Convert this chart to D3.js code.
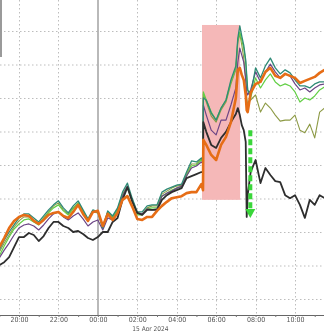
<!DOCTYPE html>
<html><head><meta charset="utf-8">
<script src="https://cdn.jsdelivr.net/npm/d3@7"></script>
<style>html,body{margin:0;padding:0;background:#fff;overflow:hidden} svg{will-change:transform} text{text-rendering:geometricPrecision}</style>
</head><body><svg id="c" width="324" height="331"></svg>
<script>
const times = ["19:00","19:15","19:30","19:45","20:00","20:15","20:30","20:45","21:00","21:15","21:30","21:45","22:00","22:15","22:30","22:45","23:00","23:15","23:30","23:45","00:00","00:15","00:30","00:45","01:00","01:15","01:30","01:45","02:00","02:15","02:30","02:45","03:00","03:15","03:30","03:45","04:00","04:15","04:30","04:45","05:00","05:15","05:20","05:21","05:30","05:45","06:00","06:15","06:30","06:45","07:00","07:06","07:12","07:18","07:24","07:30","07:33","07:36","07:45","08:00","08:15","08:30","08:45","09:00","09:15","09:30","09:45","10:00","10:15","10:30","10:45","11:00","11:15","11:30"];

const black = [1.01,1.10,1.25,1.55,1.85,1.85,1.97,1.91,1.73,1.88,
 2.12,2.30,2.30,2.18,2.12,2.00,2.03,1.94,1.82,1.76,
 1.85,2.00,2.00,2.30,2.42,2.96,3.34,2.90,2.57,2.51,
 2.66,2.66,2.66,2.96,3.10,3.19,3.25,3.31,3.61,3.67,
 3.73,3.79,3.79,5.28,4.99,4.60,4.51,4.81,4.99,5.28,
 5.52,5.70,5.49,5.19,5.04,4.69,2.45,3.10,3.79,4.15,
 3.46,3.91,3.70,3.52,3.49,3.10,3.01,3.10,2.81,2.42,
 2.96,2.81,3.10,3.01];

const orange = [1.55,1.82,2.12,2.33,2.45,2.51,2.48,2.33,2.24,2.36,
 2.51,2.57,2.60,2.48,2.42,2.60,2.81,2.54,2.33,2.60,
 2.63,2.18,2.54,2.36,2.57,2.96,3.07,2.75,2.39,2.36,
 2.45,2.45,2.63,2.78,2.90,3.01,3.04,3.07,3.16,3.19,
 3.19,3.43,3.25,4.75,4.60,4.30,4.15,4.60,4.84,5.28,
 6.00,6.84,6.90,6.69,6.54,6.09,5.64,5.58,6.15,6.42,
 6.48,6.78,6.90,6.66,6.60,6.72,6.66,6.60,6.45,6.51,
 6.57,6.63,6.75,6.84];

const teal = [1.46,1.76,2.00,2.21,2.42,2.54,2.54,2.42,2.30,2.48,
 2.66,2.81,2.93,2.72,2.57,2.78,2.93,2.66,2.39,2.66,
 2.60,2.12,2.63,2.48,2.72,3.19,3.46,2.99,2.60,2.60,
 2.78,2.81,2.81,3.19,3.28,3.34,3.40,3.43,3.79,4.12,
 4.09,4.21,4.15,6.00,5.94,5.55,5.34,5.70,5.94,6.54,
 6.96,7.79,8.15,7.85,7.58,7.13,6.69,6.24,6.09,6.90,
 6.60,6.96,7.19,6.90,6.72,6.84,6.75,6.54,6.36,6.36,
 6.30,6.42,6.48,6.48];

const lime = [1.28,1.58,1.85,2.09,2.24,2.36,2.39,2.30,2.21,2.39,
 2.57,2.72,2.81,2.63,2.51,2.69,2.87,2.60,2.36,2.63,
 2.60,2.12,2.57,2.42,2.66,3.07,3.31,2.90,2.51,2.51,
 2.69,2.72,2.72,3.07,3.16,3.25,3.31,3.34,3.67,3.97,
 4.00,4.15,4.09,6.18,5.94,5.58,5.34,5.70,5.94,6.48,
 6.90,7.73,7.97,7.73,7.49,7.07,6.60,6.24,6.00,6.60,
 6.30,6.54,6.72,6.48,6.36,6.42,6.36,6.18,5.88,6.00,
 5.94,6.06,6.24,6.33];

const olive = [1.40,1.67,1.91,2.15,2.33,2.45,2.45,2.36,2.24,2.42,
 2.60,2.78,2.87,2.66,2.54,2.72,2.87,2.63,2.36,2.60,
 2.57,2.15,2.60,2.45,2.69,3.13,3.37,2.96,2.57,2.54,
 2.72,2.78,2.78,3.13,3.22,3.31,3.37,3.40,3.73,4.03,
 4.03,4.18,4.12,6.12,5.88,5.46,5.28,5.64,5.88,6.42,
 6.84,7.67,7.91,7.58,7.19,6.60,6.00,5.82,5.94,6.09,
 5.58,5.85,5.70,5.49,5.31,5.34,5.34,5.49,5.04,4.96,
 5.22,4.81,5.58,5.70];

const purple = [1.22,1.46,1.67,1.91,2.12,2.21,2.24,2.18,2.06,2.21,
 2.39,2.54,2.60,2.45,2.36,2.48,2.57,2.39,2.18,2.30,
 2.36,2.06,2.42,2.36,2.60,3.07,3.37,2.93,2.57,2.54,
 2.69,2.66,2.69,3.07,3.16,3.22,3.31,3.37,3.67,3.91,
 3.97,4.09,4.03,5.79,5.49,5.04,4.90,5.34,5.34,5.79,
 6.30,7.07,7.49,7.28,7.07,6.54,6.18,6.09,6.24,6.78,
 6.48,6.78,7.01,6.78,6.60,6.72,6.66,6.42,6.24,6.30,
 6.18,6.30,6.39,6.42];

const xTickLabels = ["20:00","22:00","00:00","02:00","04:00","06:00","08:00","10:00"];
const minorTicks = ["19:00","20:00","21:00","22:00","23:00","00:00","01:00","02:00","03:00","04:00","05:00","06:00","07:00","08:00","09:00","10:00","11:00"];
const yGrid = [0,1,2,3,4,5,6,7,8];
const dateLabel = "15 Apr 2024";
const highlightTimes = ["05:17","07:13"];
const highlightValues = [2.96,8.18];
const arrowTime = "07:44";
const arrowValues = [5.04,2.42];

const W = 324, H = 331, axisY = 315;
function parseT(s){ const [h,m]=s.split(":").map(Number); return new Date(2024,3,h>=19?14:15,h,m); }
const dates = times.map(parseT);

const svg = d3.select("#c");
const x = d3.scaleTime().domain([parseT("20:00"), parseT("10:00")]).range([19, 295]);
const y = d3.scaleLinear().domain([0,8]).range([299,31]);

const plot = svg.append("g");
plot.append("clipPath").attr("id","clip").append("rect").attr("x",0).attr("y",0).attr("width",W).attr("height",axisY);

plot.selectAll(".hg").data(yGrid).enter().append("line")
  .attr("x1",0).attr("x2",W).attr("y1",d=>y(d)+0.5).attr("y2",d=>y(d)+0.5)
  .attr("stroke","#bdbdbd").attr("stroke-width",1).attr("stroke-dasharray","1.5,2.5");
plot.selectAll(".vg").data(xTickLabels.filter(t=>t!=="00:00")).enter().append("line")
  .attr("x1",d=>Math.round(x(parseT(d)))+0.5).attr("x2",d=>Math.round(x(parseT(d)))+0.5)
  .attr("y1",0).attr("y2",axisY)
  .attr("stroke","#bdbdbd").attr("stroke-width",1).attr("stroke-dasharray","1.5,2.5");
plot.append("line").attr("x1",Math.round(x(parseT("00:00")))).attr("x2",Math.round(x(parseT("00:00"))))
  .attr("y1",0).attr("y2",axisY).attr("stroke","#a8a8a8").attr("stroke-width",1.6);

plot.append("rect")
  .attr("x",x(parseT(highlightTimes[0]))).attr("width",x(parseT(highlightTimes[1]))-x(parseT(highlightTimes[0])))
  .attr("y",y(highlightValues[1])).attr("height",y(highlightValues[0])-y(highlightValues[1]))
  .attr("fill","#f5b8b8");

svg.append("line").attr("x1",1).attr("x2",1).attr("y1",0).attr("y2",57).attr("stroke","#9a9a9a").attr("stroke-width",2);

const series = [
  {v:olive, c:"#8d9a45", w:1.1},
  {v:lime, c:"#62cf45", w:1.2},
  {v:purple, c:"#6c4585", w:1.2},
  {v:teal, c:"#2e8a76", w:1.3},
  {v:black, c:"#2e2e2e", w:1.8},
  {v:orange, c:"#e66d16", w:2.6}
];
const line = d3.line().x((d,i)=>x(dates[i])).y(d=>y(d));
const lg = plot.append("g").attr("clip-path","url(#clip)");
series.forEach(s=>{
  lg.append("path").attr("d",line(s.v)).attr("fill","none")
    .attr("stroke",s.c).attr("stroke-width",s.w).attr("stroke-linejoin","round");
});

const ax = x(parseT(arrowTime));
const a0 = y(arrowValues[0]), a1 = y(arrowValues[1]);
plot.append("line").attr("x1",ax).attr("x2",ax).attr("y1",a0).attr("y2",a1-7)
  .attr("stroke","#3ad63a").attr("stroke-width",4).attr("stroke-dasharray","6,3");
plot.append("path").attr("d",`M${ax-5},${a1-9}L${ax+5},${a1-9}L${ax},${a1}Z`).attr("fill","#3ad63a");

svg.append("line").attr("x1",0).attr("x2",W).attr("y1",axisY+0.5).attr("y2",axisY+0.5).attr("stroke","#666").attr("stroke-width",1);
const minorAxis = d3.axisBottom(x).tickValues(minorTicks.map(parseT)).tickSize(2).tickFormat("");
svg.append("g").attr("transform",`translate(0,${axisY})`).call(minorAxis)
  .call(g=>g.select(".domain").remove()).selectAll("line").attr("stroke","#777");
const fontFam = "'Liberation Sans Narrow','DejaVu Sans Condensed','Liberation Sans',sans-serif";
const xAxis = d3.axisBottom(x).tickValues(xTickLabels.map(parseT)).tickSize(0).tickPadding(2)
  .tickFormat(d3.timeFormat("%H:%M"));
const ag = svg.append("g").attr("transform",`translate(0,${axisY})`).call(xAxis);
ag.select(".domain").remove();
ag.selectAll("text").attr("fill","#555").style("font-family",fontFam).style("font-size","7px");
svg.append("text").attr("x",x(parseT("02:40"))).attr("y",330.5).attr("text-anchor","middle")
  .attr("fill","#555").style("font-family",fontFam).style("font-size","6.5px").text(dateLabel);
</script></body></html>
